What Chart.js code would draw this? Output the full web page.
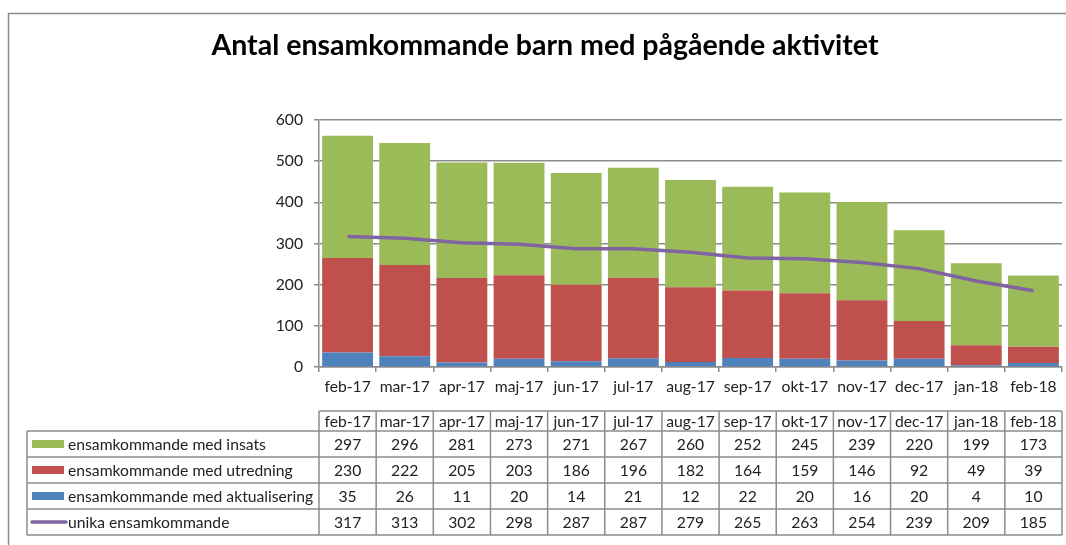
<!DOCTYPE html>
<html>
<head>
<meta charset="utf-8">
<script src="https://cdn.jsdelivr.net/npm/chart.js@4.4.1/dist/chart.umd.min.js"></script>
<style>
  html, body { margin: 0; padding: 0; background: #fff; }
  #wrap { width: 1066px; height: 545px; position: relative; }
</style>
</head>
<body>
<div id="wrap"><canvas id="chart" width="1066" height="545"></canvas></div>
<script>
// data
const categories = ['feb-17', 'mar-17', 'apr-17', 'maj-17', 'jun-17', 'jul-17', 'aug-17',
                    'sep-17', 'okt-17', 'nov-17', 'dec-17', 'jan-18', 'feb-18'];
const insats = [297, 296, 281, 273, 271, 267, 260, 252, 245, 239, 220, 199, 173];
const utredning = [230, 222, 205, 203, 186, 196, 182, 164, 159, 146, 92, 49, 39];
const aktualisering = [35, 26, 11, 20, 14, 21, 12, 22, 20, 16, 20, 4, 10];
const unika = [317, 313, 302, 298, 287, 287, 279, 265, 263, 254, 239, 209, 185];
const yTicks = [0, 100, 200, 300, 400, 500, 600];

const titleText = 'Antal ensamkommande barn med pågående aktivitet';
const FONT = 'Lato, "Open Sans", sans-serif';
const FS = 15.7;
const GRID = '#8c8c8c';

// table rows below the chart: label, values, swatch kind, colour
const tableRows = [
    ['ensamkommande med insats', insats, 'bar', '#9BBB59'],
    ['ensamkommande med utredning', utredning, 'bar', '#C0504D'],
    ['ensamkommande med aktualisering', aktualisering, 'bar', '#4F81BD'],
    ['unika ensamkommande', unika, 'line', '#8064A2']
];

const dataTable = {
    id: 'dataTable',
    afterDraw(chart) {
        const ctx = chart.ctx;
        const xs = chart.scales.x;
        const left = chart.chartArea.left, right = chart.chartArea.right;
        const cw = (right - left) / categories.length;
        const headTop = 411, headBot = 431, rowH = 26, tblLeft = 27;
        const tblBot = headBot + rowH * tableRows.length;

        ctx.save();
        // outer frame
        ctx.strokeStyle = '#8a8a8a';
        ctx.lineWidth = 1.5;
        ctx.beginPath();
        ctx.moveTo(8.5, 545);
        ctx.lineTo(8.5, 13.5);
        ctx.lineTo(1066, 13.5);
        ctx.stroke();

        // title
        ctx.fillStyle = '#000';
        ctx.font = 'bold 28.5px ' + FONT;
        ctx.textAlign = 'center';
        ctx.textBaseline = 'middle';
        ctx.fillText(titleText, 545, 46);

        // grid of the table
        ctx.strokeStyle = GRID;
        ctx.lineWidth = 1.5;
        ctx.beginPath();
        ctx.moveTo(left, headTop); ctx.lineTo(right, headTop);
        for (let r = 0; r <= tableRows.length; r++) {
            const y = headBot + r * rowH;
            ctx.moveTo(tblLeft, y); ctx.lineTo(right, y);
        }
        ctx.moveTo(tblLeft, headBot); ctx.lineTo(tblLeft, tblBot);
        for (let i = 0; i <= categories.length; i++) {
            const x = left + i * cw;
            ctx.moveTo(x, headTop); ctx.lineTo(x, tblBot);
        }
        ctx.stroke();

        // header + values
        ctx.font = FS + 'px ' + FONT;
        ctx.fillStyle = '#222';
        ctx.textAlign = 'center';
        categories.forEach((c, i) => {
            const x = xs.getPixelForValue(i);
            ctx.fillText(c, x, (headTop + headBot) / 2 + 1);
            tableRows.forEach((row, r) => {
                ctx.fillText(String(row[1][i]), x, headBot + r * rowH + rowH / 2 + 1);
            });
        });

        // legend column
        tableRows.forEach((row, r) => {
            const yc = headBot + r * rowH + rowH / 2;
            ctx.fillStyle = row[3];
            if (row[2] === 'bar') {
                ctx.fillRect(32, yc - 4, 32, 8);
            } else {
                ctx.strokeStyle = row[3];
                ctx.lineWidth = 3.5;
                ctx.lineCap = 'round';
                ctx.beginPath();
                ctx.moveTo(32, yc); ctx.lineTo(66, yc);
                ctx.stroke();
            }
            ctx.fillStyle = '#222';
            ctx.textAlign = 'left';
            ctx.fillText(row[0], 68, yc + 1);
        });
        ctx.restore();
    }
};

new Chart(document.getElementById('chart').getContext('2d'), {
    data: {
        labels: categories,
        datasets: [
            {
                type: 'line', label: 'unika ensamkommande', data: unika,
                borderColor: '#8064A2', borderWidth: 3.5, pointRadius: 0,
                tension: 0, stack: 'unika', order: 0
            },
            {
                type: 'bar', label: 'ensamkommande med aktualisering', data: aktualisering,
                backgroundColor: '#4F81BD', stack: 'bars', order: 1
            },
            {
                type: 'bar', label: 'ensamkommande med utredning', data: utredning,
                backgroundColor: '#C0504D', stack: 'bars', order: 1
            },
            {
                type: 'bar', label: 'ensamkommande med insats', data: insats,
                backgroundColor: '#9BBB59', stack: 'bars', order: 1
            }
        ]
    },
    options: {
        responsive: false,
        animation: false,
        datasets: { bar: { barPercentage: 0.89, categoryPercentage: 1.0 } },
        layout: { padding: { top: 120, right: 4, left: 0, bottom: 0 } },
        plugins: {
            legend: { display: false },
            title: { display: false },
            tooltip: { enabled: false }
        },
        scales: {
            x: {
                stacked: true,
                afterFit: s => { s.height = 178; },
                grid: { offset: true, drawOnChartArea: false, color: GRID, tickLength: 5, lineWidth: 1.5 },
                border: { color: GRID, width: 1.5 },
                ticks: { color: '#222', font: { family: FONT, size: FS }, padding: 6, maxRotation: 0 }
            },
            y: {
                stacked: true,
                min: 0, max: 600,
                afterFit: s => { s.width = 319; },
                afterBuildTicks: s => { s.ticks = yTicks.map(v => ({ value: v })); },
                grid: { color: GRID, tickLength: 5, lineWidth: 1.5 },
                border: { color: GRID, width: 1.5 },
                ticks: { color: '#222', font: { family: FONT, size: FS }, padding: 11 }
            }
        }
    },
    plugins: [dataTable]
});
</script>
</body>
</html>
